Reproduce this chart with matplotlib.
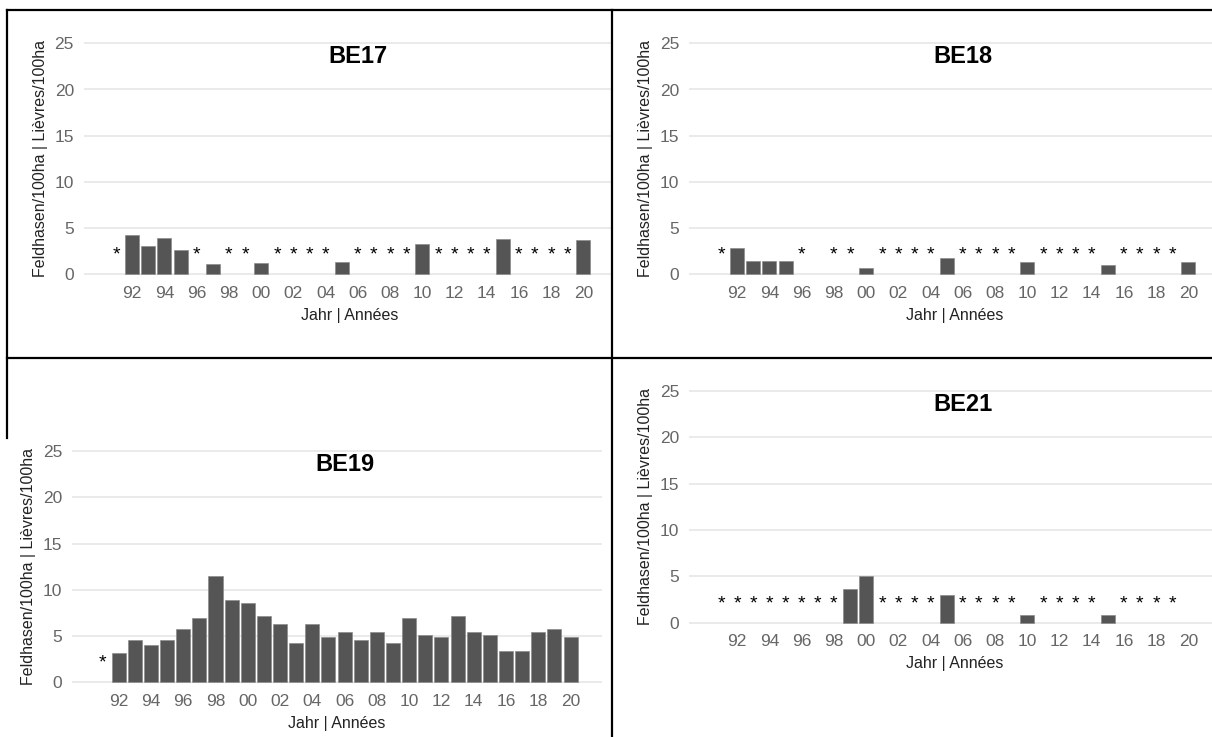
import matplotlib
matplotlib.use("Agg")
import matplotlib.pyplot as plt
from matplotlib.lines import Line2D

plt.rcParams['font.family'] = ['Liberation Sans', 'DejaVu Sans']

years = list(range(1991, 2021))
tick_years = list(range(1992, 2021, 2))
tick_labels = ["%02d" % (y % 100) for y in tick_years]

# None = not counted (shown as *)
be17 = [None, 4.25, 3.1, 3.9, 2.65, None, 1.1, None, None, 1.2,
        None, None, None, None, 1.35, None, None, None, None, 3.3,
        None, None, None, None, 3.8, None, None, None, None, 3.7]
be18 = [None, 2.8, 1.4, 1.4, 1.4, None, 0, None, None, 0.7,
        None, None, None, None, 1.75, None, None, None, None, 1.3,
        None, None, None, None, 1.0, None, None, None, None, 1.3]
be19 = [None, 3.15, 4.55, 4.0, 4.55, 5.75, 6.9, 11.45, 8.9, 8.55,
        7.15, 6.3, 4.25, 6.3, 4.85, 5.45, 4.55, 5.45, 4.25, 6.9,
        5.15, 4.85, 7.15, 5.45, 5.15, 3.4, 3.4, 5.45, 5.75, 4.85]
be21 = [None, None, None, None, None, None, None, None, 3.6, 5.0,
        None, None, None, None, 2.95, None, None, None, None, 0.8,
        None, None, None, None, 0.8, None, None, None, None, 0]
star_level = 2.8

W, H = 1212, 737
fig = plt.figure(figsize=(W / 100, H / 100), dpi=100)

BAR = '#555555'
GRID = '#e8e8e8'
TICK = '#666666'
LABEL = '#222222'


def panel(name, values, left, right, y0, y25, x91, ppy):
    ppu = (y0 - y25) / 25.0
    m = 0.4
    bottom = y0 + m * ppu
    top = y25 - m * ppu
    ax = fig.add_axes([left / W, 1 - bottom / H, (right - left) / W, (bottom - top) / H])
    ax.set_xlim(1991 + (left - x91) / ppy, 1991 + (right - x91) / ppy)
    ax.set_ylim(-m, 25 + m)
    for s in ax.spines.values():
        s.set_visible(False)
    ax.set_yticks([0, 5, 10, 15, 20, 25])
    ax.yaxis.grid(True, color=GRID, lw=1.3)
    ax.set_axisbelow(True)
    ax.set_xticks(tick_years)
    ax.set_xticklabels(tick_labels)
    ax.tick_params(axis='x', length=0, pad=5.5, labelsize=12.5, labelcolor=TICK)
    ax.tick_params(axis='y', length=0, pad=7, labelsize=12.5, labelcolor=TICK)

    # zero counts leave an empty slot, no bar outline
    bx = [y for y, v in zip(years, values) if v]
    bh = [v for v in values if v]
    ax.bar(bx, bh, width=0.87, color=BAR, edgecolor='#8c8c8c', linewidth=0.5, zorder=2)
    for y, v in zip(years, values):
        if v is None:
            ax.annotate('*', (y, star_level), xytext=(0, -0.58 * 14), textcoords='offset points',
                        ha='center', va='baseline', fontsize=14, color='black')

    ax.text(2006, 25 - 20.0 / ppu, name, ha='center', va='baseline',
            fontsize=17, fontweight='bold', color='black')
    xc = x91 + 14.5 * ppy
    fig.text(xc / W, 1 - (y0 + 45.7) / H, 'Jahr | Années', ha='center', va='baseline',
             fontsize=11.5, color=LABEL)
    fig.text((left - 43) / W, 1 - ((y0 + y25) / 2) / H, 'Feldhasen/100ha | Lièvres/100ha',
             rotation=90, ha='center', va='center', fontsize=11.5, color=LABEL)
    return ax


panel('BE17', be17, 83.6, 611, 274.3, 43.3, 116.1, 16.11)
panel('BE18', be18, 688.9, 1222, 274.3, 43.3, 721.1, 16.11)
panel('BE19', be19, 72.0, 602, 682.3, 451.0, 102.5, 16.14)
panel('BE21', be21, 688.9, 1222, 622.7, 390.7, 721.1, 16.11)

# table borders
borders = [((7, 10), (1212, 10)),
           ((7, 10), (7, 438)),
           ((611.5, 10), (611.5, 737)),
           ((7, 358), (1212, 358))]
for (x1, y1), (x2, y2) in borders:
    fig.add_artist(Line2D([x1 / W, x2 / W], [1 - y1 / H, 1 - y2 / H],
                          transform=fig.transFigure, color='black', lw=1.6))

fig.savefig('out.png', dpi=100)
